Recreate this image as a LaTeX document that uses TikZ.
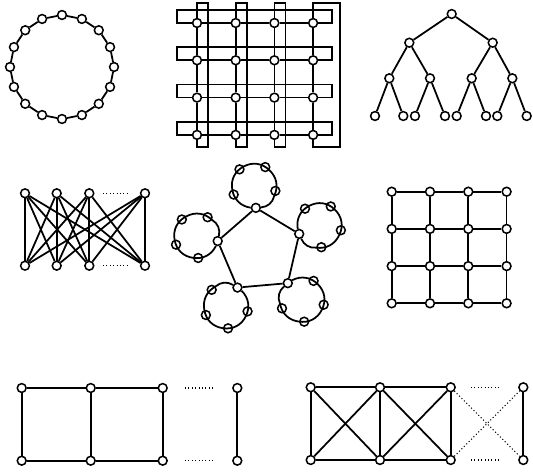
\documentclass[tikz,border=0pt]{standalone}
\usetikzlibrary{calc}

\tikzset{
  vtx/.style={circle, draw, fill=white, line width=1.3pt, inner sep=0pt, minimum size=0.265cm},
  edge/.style={line width=1.5pt},
  dots/.style={dotted, line width=0.9pt}
}

\begin{document}
\begin{tikzpicture}[x=0.03cm, y=-0.03cm]
  \useasboundingbox (0,0) rectangle (533,474);

  % Ring of 16
  \foreach \i in {0,...,15} {
    \node[vtx] (ring\i) at ({62+52*cos(90-22.5*\i)}, {67-52*sin(90-22.5*\i)}) {};
  }
  \foreach \i in {0,...,15} {
    \pgfmathtruncatemacro\inext{mod(\i+1,16)}
    \draw[edge] (ring\i) -- (ring\inext);
  }

  % Torus
  \foreach \row in {1,...,4} {
    \foreach \col in {1,...,4} {
      \node[vtx] (tor-\row-\col) at ({197+38.7*(\col-1)}, {23+37.3*(\row-1)}) {};
    }
  }
  \foreach \row in {1,...,4} {
    \foreach \col in {1,2,3} {
      \pgfmathtruncatemacro\cnext{\col+1}
      \draw[edge] (tor-\row-\col) -- (tor-\row-\cnext);
      \draw[edge] (tor-\col-\row) -- (tor-\cnext-\row);
    }
  }
  % wrap rows
  \foreach \row in {1,...,4} {
    \draw[edge] (tor-\row-1) -- ($(tor-\row-1)+(-20,0)$) -- ++(0,-13) -- ++(155,0) -- ++(0,13) -- (tor-\row-4);
  }
  % wrap columns
  \foreach \col/\wd in {1/11, 2/11, 3/11, 4/27} {
    \draw[edge] (tor-1-\col) -- ($(tor-1-\col)+(0,-20)$) -- ++(\wd,0) -- ++(0,144) -- ++(-\wd,0) -- (tor-4-\col);
  }

  % Binary tree
  \node[vtx] (bt) at (451.7,14) {};
  \node[vtx] (bt1) at (409.3,42.7) {};
  \node[vtx] (bt2) at (492.7,42.7) {};
  \foreach \n/\x in {11/389.3, 12/430, 21/471.7, 22/512.3} {
    \node[vtx] (bt\n) at (\x,78.3) {};
  }
  \foreach \n/\x in {111/375, 112/403.3, 121/415, 122/445, 211/456.7, 212/486, 221/497.3, 222/526.7} {
    \node[vtx] (bt\n) at (\x,116) {};
  }
  \foreach \p/\q in {bt/bt1, bt/bt2, bt1/bt11, bt1/bt12, bt2/bt21, bt2/bt22, bt11/bt111, bt11/bt112, bt12/bt121, bt12/bt122, bt21/bt211, bt21/bt212, bt22/bt221, bt22/bt222} {
    \draw[edge] (\p) -- (\q);
  }

  % Complete bipartite
  \foreach \i/\x in {1/25, 2/56.7, 3/89.3, 4/145} {
    \node[vtx] (bu\i) at (\x,193.3) {};
    \node[vtx] (bd\i) at (\x,265.7) {};
  }
  \foreach \i in {1,...,4} {
    \foreach \j in {1,...,4} {
      \draw[edge] (bu\i) -- (bd\j);
    }
  }
  \draw[dots] (103,193.3) -- (130,193.3);
  \draw[dots] (103,265.7) -- (130,265.7);

  % Pentagon of rings
  \foreach \k in {0,...,4} {
    \pgfmathsetmacro\ang{95+72*\k}
    \node[vtx] (pv\k) at ({259.6+43*cos(\ang)}, {250.7-43*sin(\ang)}) {};
    \foreach \j in {1,...,4} {
      \node[vtx] (pr\k-\j) at ({259.6+65*cos(\ang)+22*cos(\ang+180+72*\j)}, {250.7-65*sin(\ang)-22*sin(\ang+180+72*\j)}) {};
    }
  }
  \foreach \k in {0,...,4} {
    \pgfmathtruncatemacro\knext{mod(\k+1,5)}
    \draw[edge] (pv\k) -- (pv\knext);
    \draw[edge] (pv\k) to[bend right=36] (pr\k-1) to[bend right=36] (pr\k-2) to[bend right=36] (pr\k-3) to[bend right=36] (pr\k-4) to[bend right=36] (pv\k);
  }

  % 4x4 mesh
  \foreach \row in {1,...,4} {
    \foreach \col in {1,...,4} {
      \node[vtx] (mesh-\row-\col) at ({391.7+38.3*(\col-1)}, {191.7+37.2*(\row-1)}) {};
    }
  }
  \foreach \row in {1,...,4} {
    \foreach \col in {1,2,3} {
      \pgfmathtruncatemacro\cnext{\col+1}
      \draw[edge] (mesh-\row-\col) -- (mesh-\row-\cnext);
      \draw[edge] (mesh-\col-\row) -- (mesh-\cnext-\row);
    }
  }

  % Ladder
  \foreach \i/\x in {1/21.7, 2/90.7, 3/162.7, 4/237.3} {
    \node[vtx] (la\i) at (\x,388) {};
    \node[vtx] (lb\i) at (\x,460.7) {};
    \draw[edge] (la\i) -- (lb\i);
  }
  \foreach \i/\j in {1/2, 2/3} {
    \draw[edge] (la\i) -- (la\j);
    \draw[edge] (lb\i) -- (lb\j);
  }
  \draw[dots] (185,388) -- (213,388);
  \draw[dots] (185,460.7) -- (213,460.7);

  % Crossed ladder
  \foreach \i/\x in {1/310.7, 2/380, 3/450.7, 4/523.3} {
    \node[vtx] (xa\i) at (\x,387.3) {};
    \node[vtx] (xb\i) at (\x,460) {};
    \draw[edge] (xa\i) -- (xb\i);
  }
  \foreach \i/\j in {1/2, 2/3} {
    \draw[edge] (xa\i) -- (xa\j);
    \draw[edge] (xb\i) -- (xb\j);
    \draw[edge] (xa\i) -- (xb\j);
    \draw[edge] (xb\i) -- (xa\j);
  }
  \draw[dots] (xa3) -- (xb4);
  \draw[dots] (xb3) -- (xa4);
  \draw[dots] (471,387.3) -- (499,387.3);
  \draw[dots] (471,460) -- (499,460);
\end{tikzpicture}
\end{document}
